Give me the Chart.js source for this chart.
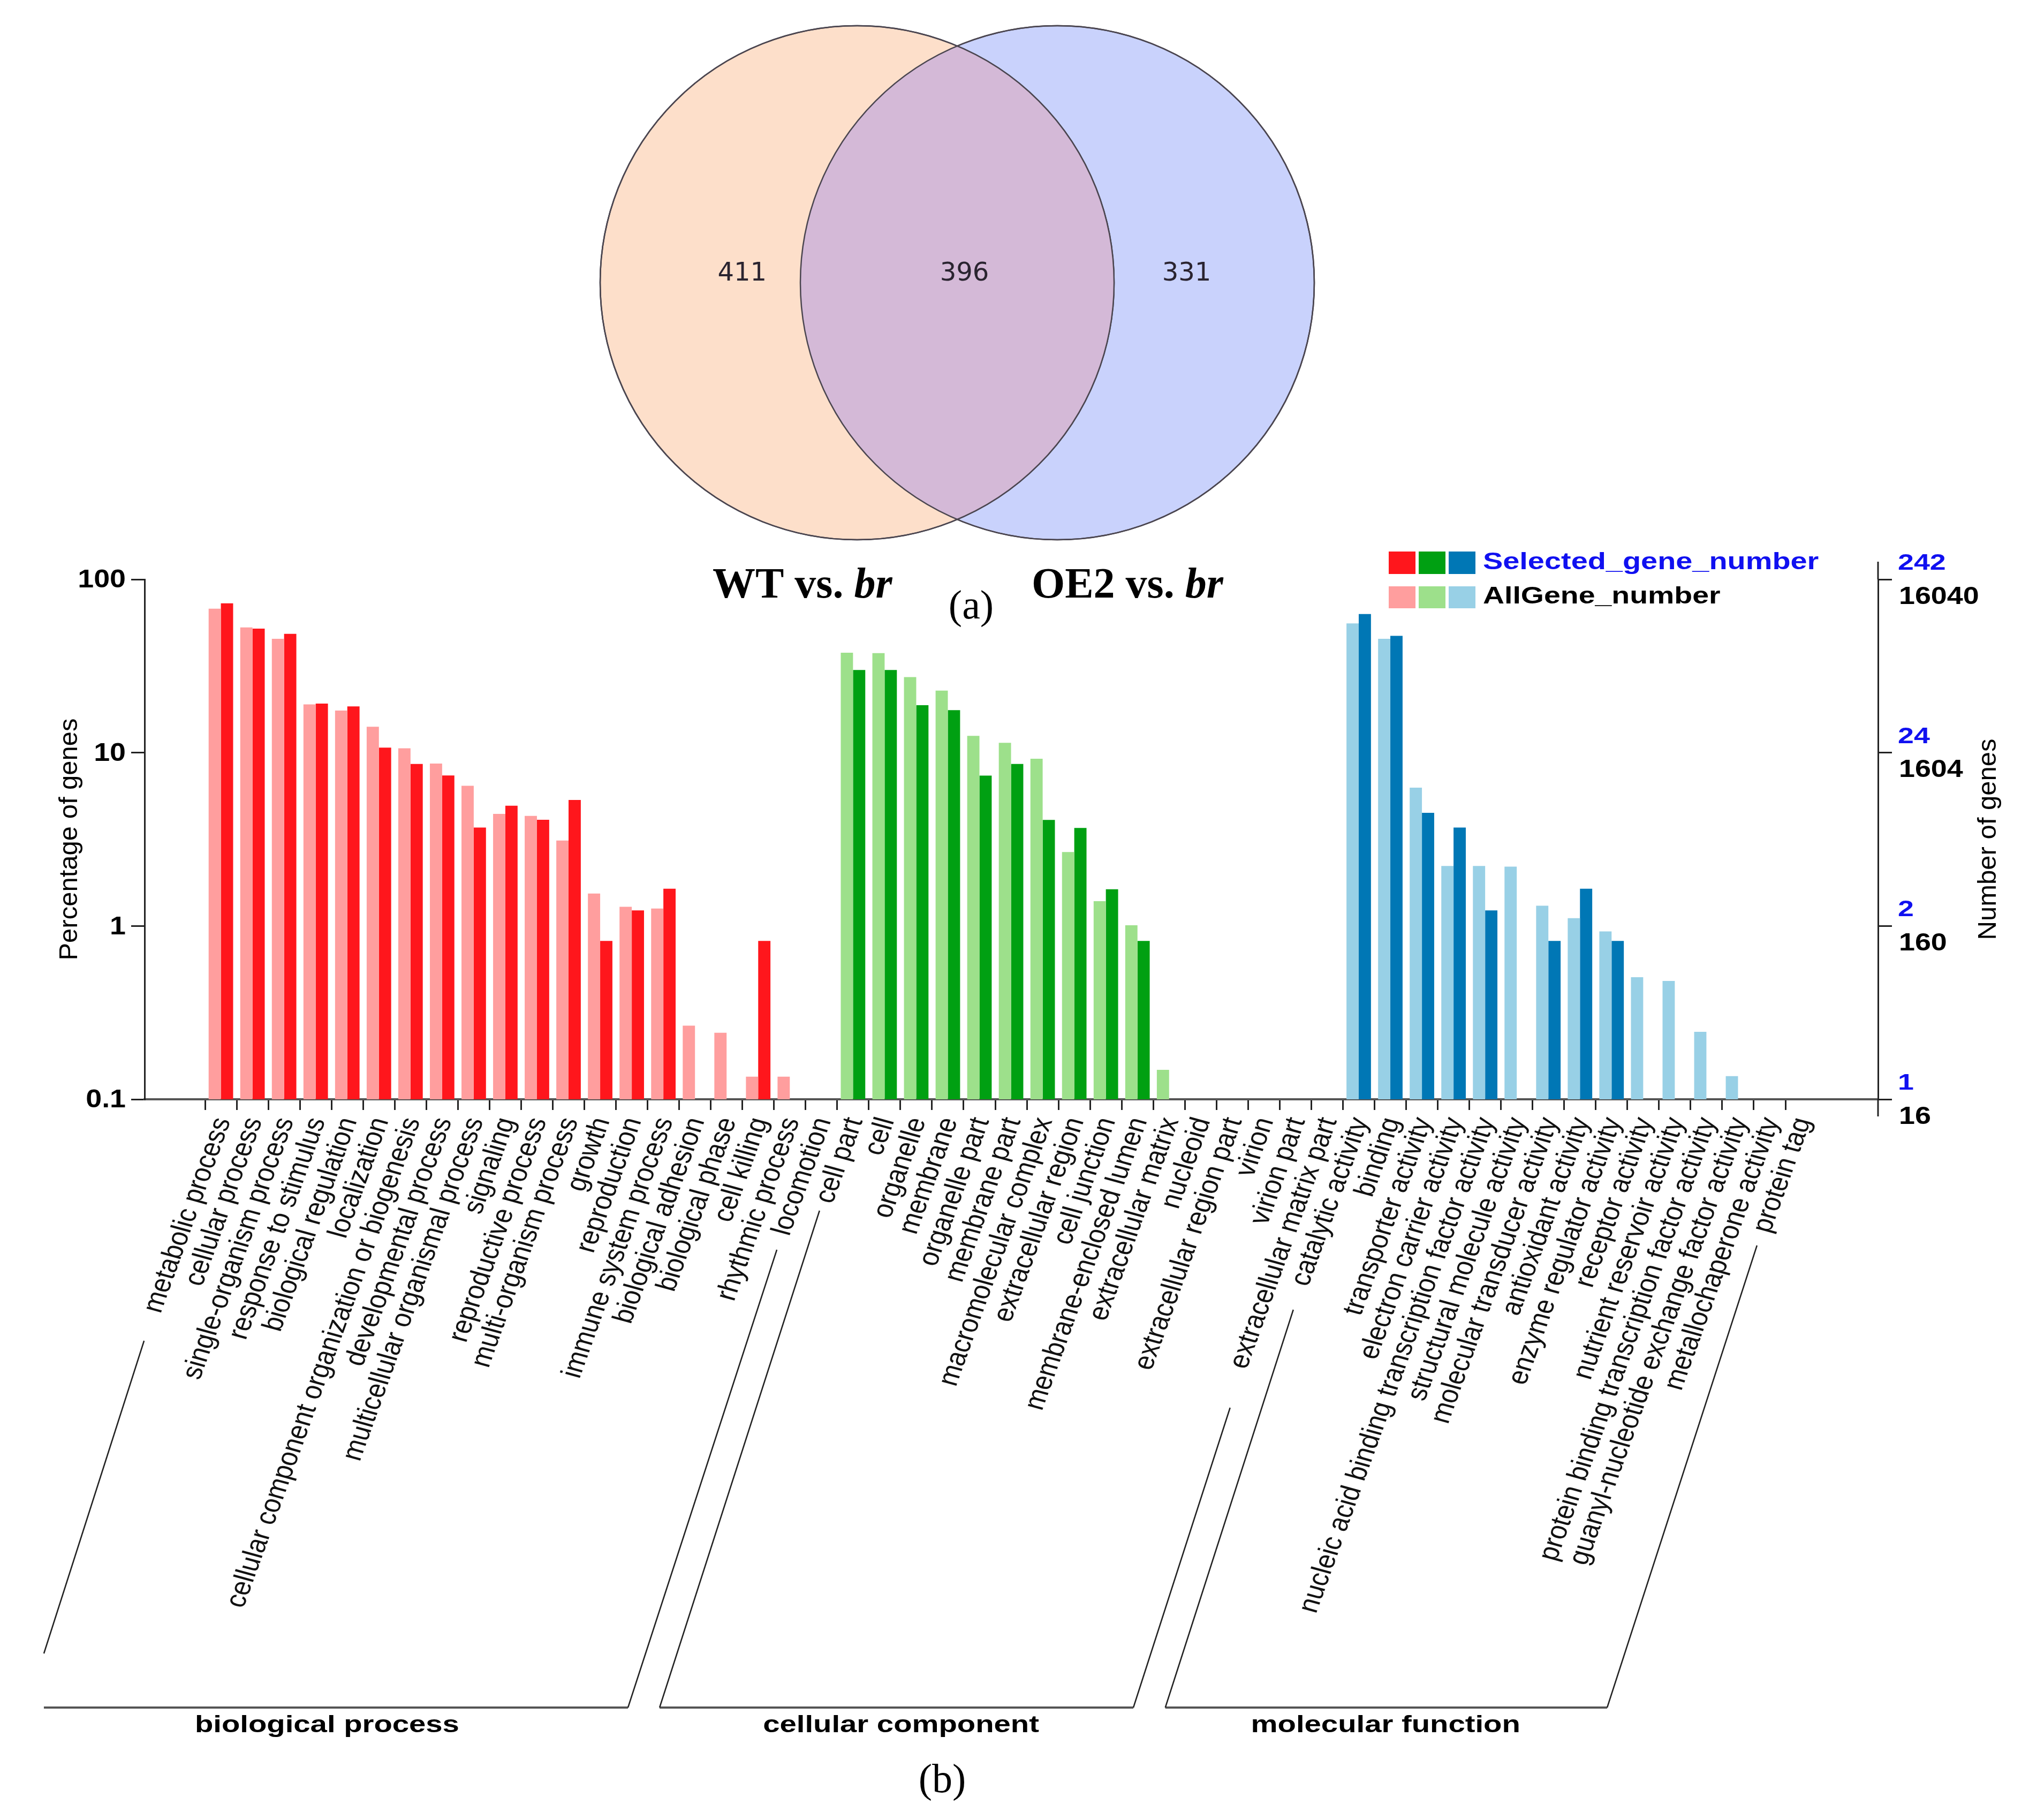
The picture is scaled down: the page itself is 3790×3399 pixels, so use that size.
<!DOCTYPE html>
<html lang="en">
<head>
    <meta charset="UTF-8">
    <title>Venn + GO classification</title>
    <script src="https://cdn.jsdelivr.net/npm/chart.js"></script>
    <style>
        body { margin: 0; background: #fff; }
        .wrap { position: relative; width: 3790px; height: 3399px; }
        #goChart { position: absolute; left: 0; top: 0; }
        #vennChart { position: absolute; left: 1088px; top: 0; }
    </style>
</head>
<body>
<div class="wrap">
    <canvas id="goChart" width="3790" height="3399"></canvas>
    <canvas id="vennChart" width="1400" height="1056"></canvas>
</div>
<script>
// ---- data ----
const vennSets = ['WT vs. ', 'OE2 vs. '];
const vennCounts = [411, 396, 331]; // WT only, shared, OE2 only

const groupNames = ['biological process', 'cellular component', 'molecular function'];
const bpTerms = ['metabolic process', 'cellular process', 'single-organism process', 'response to stimulus',
    'biological regulation', 'localization', 'cellular component organization or biogenesis',
    'developmental process', 'multicellular organismal process', 'signaling', 'reproductive process',
    'multi-organism process', 'growth', 'reproduction', 'immune system process', 'biological adhesion',
    'biological phase', 'cell killing', 'rhythmic process', 'locomotion'];
const ccTerms = ['cell part', 'cell', 'organelle', 'membrane', 'organelle part', 'membrane part',
    'macromolecular complex', 'extracellular region', 'cell junction', 'membrane-enclosed lumen',
    'extracellular matrix', 'nucleoid', 'extracellular region part', 'virion', 'virion part',
    'extracellular matrix part'];
const mfTerms = ['catalytic activity', 'binding', 'transporter activity', 'electron carrier activity',
    'nucleic acid binding transcription factor activity', 'structural molecule activity',
    'molecular transducer activity', 'antioxidant activity', 'enzyme regulator activity', 'receptor activity',
    'nutrient reservoir activity', 'protein binding transcription factor activity',
    'guanyl-nucleotide exchange factor activity', 'metallochaperone activity', 'protein tag'];

// percentage of genes (AllGene = light bars, Selected = dark bars)
const allGenePct = [
    67.7, 52.8, 45.4, 19.0, 17.5, 14.1, 10.6, 8.65, 6.44, 4.43, 4.32, 3.11, 1.54, 1.29, 1.26, 0.266, 0.242, 0.135, 0.135, null,
    37.7, 37.5, 27.3, 22.8, 12.5, 11.4, 9.23, 2.67, 1.39, 1.01, 0.148, null, null, null, null, null,
    55.7, 45.4, 6.28, 2.22, 2.22, 2.20, 1.31, 1.11, 0.931, 0.506, 0.482, 0.245, 0.136, null, null
];
const selectedPct = [
    72.7, 52.0, 48.5, 19.2, 18.5, 10.7, 8.6, 7.38, 3.70, 4.94, 4.10, 5.33, 0.82, 1.23, 1.64, null, null, 0.82, null, null,
    30.0, 30.0, 18.8, 17.6, 7.37, 8.6, 4.09, 3.68, 1.63, 0.82, null, null, null, null, null, null,
    63.1, 47.2, 4.50, 3.70, 1.23, null, 0.82, 1.64, 0.82, null, null, null, null, null, null
];

const yTicks = [0.1, 1, 10, 100];
const yTickLabels = ['0.1', '1', '10', '100'];
const selectedTickLabels = ['1', '2', '24', '242'];
const allGeneTickLabels = ['16', '160', '1604', '16040'];

// ---- styles ----
const darkColors = ['#FF161C', '#00A012', '#0077B5'];
const lightColors = ['#FF9E9E', '#9DE08B', '#98D0E6'];
const SANS = '"Liberation Sans", Arial, Helvetica, sans-serif';
const SERIF = '"Liberation Serif", "Times New Roman", serif';
const TEXT_SX = 1.15;              // panel (b) text is a bit wide
const LABEL_ROT = -72.5 * Math.PI / 180;

const allTerms = bpTerms.concat(ccTerms, mfTerms);
const termGroup = allTerms.map((_, i) => i < bpTerms.length ? 0 : (i < bpTerms.length + ccTerms.length ? 1 : 2));

// bracket geometry in x-units (category index) and page y
const brackets = [
    { x0: -5.10, x1: 13.38, yBase: 3189, left: [-5.10, 3088, -1.93, 2504], right: [18.09, 2334], labelX: 3.86 },
    { x0: 14.38, x1: 29.37, yBase: 3189, left: [14.38, 3189, 19.44, 2261], right: [32.43, 2629], labelX: 22.02 },
    { x0: 30.38, x1: 44.36, yBase: 3189, left: [30.38, 3189, 34.43, 2446], right: [49.10, 2326], labelX: 37.35 }
];

function drawText(ctx, str, x, y, o) {
    ctx.save();
    ctx.translate(x, y);
    ctx.scale(o.sx || 1, 1);
    if (o.rot) ctx.rotate(o.rot);
    ctx.font = o.font;
    ctx.fillStyle = o.color || '#000';
    ctx.textAlign = o.align || 'left';
    ctx.textBaseline = o.baseline || 'alphabetic';
    ctx.fillText(str, 0, 0);
    ctx.restore();
}

function line(ctx, x1, y1, x2, y2, w, c) {
    ctx.save();
    ctx.beginPath();
    ctx.moveTo(x1, y1);
    ctx.lineTo(x2, y2);
    ctx.lineWidth = w;
    ctx.strokeStyle = c;
    ctx.stroke();
    ctx.restore();
}

const decorations = {
    id: 'decorations',
    afterDraw(chart) {
        const ctx = chart.ctx;
        const xs = chart.scales.x, ys = chart.scales.y;
        const area = chart.chartArea;

        // left axis labels
        yTicks.forEach((v, i) => {
            drawText(ctx, yTickLabels[i], area.left - 35, ys.getPixelForValue(v) + 2,
                { font: 'bold 48px ' + SANS, sx: 1.12, align: 'right', baseline: 'middle' });
        });
        // right axis: selected (blue) above, all genes (black) below each tick
        yTicks.forEach((v, i) => {
            const py = ys.getPixelForValue(v);
            drawText(ctx, selectedTickLabels[i], area.right + 37, py - 30,
                { font: 'bold 43px ' + SANS, sx: 1.25, color: '#1010F0', baseline: 'middle' });
            drawText(ctx, allGeneTickLabels[i], area.right + 39, py + 33,
                { font: 'bold 46px ' + SANS, sx: 1.17, color: '#000', baseline: 'middle' });
        });
        // right axis line runs a little past the plot
        line(ctx, area.right, area.top - 33, area.right, area.top, 3, '#222');
        line(ctx, area.right, area.bottom, area.right, area.bottom + 32, 3, '#222');

        // axis titles
        const midY = (area.top + area.bottom) / 2;
        drawText(ctx, 'Percentage of genes', 130, midY,
            { font: '49px ' + SANS, rot: -Math.PI / 2, align: 'center', baseline: 'middle', color: '#000' });
        drawText(ctx, 'Number of genes', 3714, midY,
            { font: '49px ' + SANS, rot: -Math.PI / 2, align: 'center', baseline: 'middle', color: '#000' });

        // category labels
        allTerms.forEach((t, i) => {
            drawText(ctx, t, xs.getPixelForValue(i + 0.5) + 4, area.bottom + 36,
                { font: '47px ' + SANS, sx: TEXT_SX, rot: LABEL_ROT, align: 'right', baseline: 'middle', color: '#111' });
        });

        // group brackets
        brackets.forEach((b, gi) => {
            const px = v => xs.getPixelForValue(v);
            line(ctx, px(b.x0), b.yBase, px(b.x1), b.yBase, 4, '#555');
            line(ctx, px(b.left[0]), b.left[1], px(b.left[2]), b.left[3], 2.5, '#222');
            line(ctx, px(b.x1), b.yBase, px(b.right[0]), b.right[1], 2.5, '#222');
            drawText(ctx, groupNames[gi], px(b.labelX), 3235,
                { font: 'bold 45px ' + SANS, sx: 1.25, align: 'center', color: '#000' });
        });

        // legend
        const sqX = [2594, 2650, 2706];
        sqX.forEach((x, g) => {
            ctx.fillStyle = darkColors[g];
            ctx.fillRect(x, 1030, 50, 42);
            ctx.fillStyle = lightColors[g];
            ctx.fillRect(x, 1095, 50, 41);
        });
        drawText(ctx, 'Selected_gene_number', 2770, 1063,
            { font: 'bold 44px ' + SANS, sx: 1.27, color: '#1010F0' });
        drawText(ctx, 'AllGene_number', 2770, 1127,
            { font: 'bold 44px ' + SANS, sx: 1.26, color: '#000' });

        // venn set titles and panel letters
        const titles = [[vennSets[0], 1331], [vennSets[1], 1927]];
        titles.forEach(([s, x]) => {
            ctx.save();
            ctx.font = 'bold 80px ' + SERIF;
            ctx.fillStyle = '#000';
            ctx.textBaseline = 'alphabetic';
            ctx.fillText(s, x, 1116);
            const w = ctx.measureText(s).width;
            ctx.font = 'italic bold 80px ' + SERIF;
            ctx.fillText('br', x + w, 1116);
            ctx.restore();
        });
        drawText(ctx, '(a)', 1814, 1155, { font: '76px ' + SERIF, align: 'center' });
        drawText(ctx, '(b)', 1760, 3347, { font: '76px ' + SERIF, align: 'center' });
    }
};

const axisLine = { display: true, color: '#222', width: 3 };

new Chart(document.getElementById('goChart'), {
    type: 'bar',
    data: {
        datasets: [{
            label: 'AllGene_number',
            data: allGenePct.map((v, i) => ({ x: i + 0.5, y: v })),
            backgroundColor: termGroup.map(g => lightColors[g]),
            yAxisID: 'y'
        }, {
            label: 'Selected_gene_number',
            data: selectedPct.map((v, i) => ({ x: i + 0.5, y: v })),
            backgroundColor: termGroup.map(g => darkColors[g]),
            yAxisID: 'y'
        }]
    },
    options: {
        responsive: false,
        devicePixelRatio: 1,
        animation: false,
        categoryPercentage: 0.775,
        barPercentage: 1.0,
        borderWidth: 0,
        layout: { padding: { top: 1082, left: 0, right: 0, bottom: 0 } },
        plugins: { legend: { display: false }, tooltip: { enabled: false }, title: { display: false } },
        scales: {
            x: {
                type: 'linear',
                offset: false,
                min: -1.915,
                max: 52.93,
                afterBuildTicks: s => { s.ticks = allTerms.map((_, i) => ({ value: i })); },
                afterFit: s => { s.height = 3399 - 2053; },
                ticks: { display: false },
                grid: { offset: false, drawOnChartArea: false, drawTicks: true, tickLength: 20, color: '#222', lineWidth: 3 },
                border: { display: true, color: '#555', width: 4 }
            },
            y: {
                type: 'logarithmic',
                position: 'left',
                min: 0.1,
                max: 100,
                afterBuildTicks: s => { s.ticks = yTicks.map(v => ({ value: v })); },
                afterFit: s => { s.width = 270; },
                ticks: { display: false },
                grid: { drawOnChartArea: false, drawTicks: true, tickLength: 25, color: '#222', lineWidth: 3 },
                border: axisLine
            },
            y2: {
                type: 'logarithmic',
                position: 'right',
                display: true,
                min: 0.1,
                max: 100,
                afterBuildTicks: s => { s.ticks = yTicks.map(v => ({ value: v })); },
                afterFit: s => { s.width = 3790 - 3508; },
                ticks: { display: false },
                grid: { drawOnChartArea: false, drawTicks: true, tickLength: 26, color: '#222', lineWidth: 3 },
                border: axisLine
            }
        }
    },
    plugins: [decorations]
});

// ---- venn (two equal circles) ----
const VENN_R = 480;
const vennLabelX = [-1.074, 0.036, 1.146];

const vennOverlap = {
    id: 'vennOverlap',
    afterDatasetsDraw(chart) {
        const ctx = chart.ctx;
        const a = chart.getDatasetMeta(0).data[0];
        const b = chart.getDatasetMeta(1).data[0];
        ctx.save();
        ctx.beginPath();
        ctx.arc(a.x, a.y, a.options.radius, 0, Math.PI * 2);
        ctx.clip();
        ctx.beginPath();
        ctx.arc(b.x, b.y, b.options.radius, 0, Math.PI * 2);
        ctx.fillStyle = '#D4B9D7';
        ctx.fill();
        ctx.restore();
        ctx.save();
        ctx.lineWidth = 2.5;
        ctx.strokeStyle = '#4b4650';
        [a, b].forEach(p => {
            ctx.beginPath();
            ctx.arc(p.x, p.y, p.options.radius, 0, Math.PI * 2);
            ctx.stroke();
        });
        ctx.restore();
        const xs = chart.scales.x, ys = chart.scales.y;
        vennCounts.forEach((n, i) => {
            drawText(ctx, String(n), xs.getPixelForValue(vennLabelX[i]), ys.getPixelForValue(0.043),
                { font: '48px "DejaVu Sans", sans-serif', align: 'center', baseline: 'middle', color: '#2a2430' });
        });
    }
};

new Chart(document.getElementById('vennChart'), {
    type: 'bubble',
    data: {
        datasets: [
            { label: 'WT vs. br', data: [{ x: -0.5, y: 0, r: VENN_R }], backgroundColor: '#FDDFCA', borderColor: '#4b4650', borderWidth: 2.5 },
            { label: 'OE2 vs. br', data: [{ x: 0.5, y: 0, r: VENN_R }], backgroundColor: '#C9D2FC', borderColor: '#4b4650', borderWidth: 2.5 }
        ]
    },
    options: {
        responsive: false,
        devicePixelRatio: 1,
        animation: false,
        clip: false,
        layout: { padding: 0, autoPadding: false },
        plugins: { legend: { display: false }, tooltip: { enabled: false } },
        scales: {
            x: { display: false, min: -1.8717, max: 1.8717 },
            y: { display: false, min: -1.4118, max: 1.4118 }
        }
    },
    plugins: [vennOverlap]
});
</script>
</body>
</html>
